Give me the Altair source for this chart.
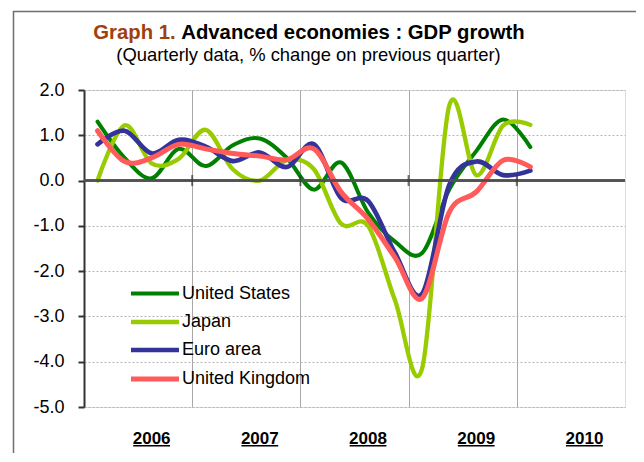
import altair as alt
import pandas as pd

# ---------------- data ----------------
quarters = ["2006Q1", "2006Q2", "2006Q3", "2006Q4",
            "2007Q1", "2007Q2", "2007Q3", "2007Q4",
            "2008Q1", "2008Q2", "2008Q3", "2008Q4",
            "2009Q1", "2009Q2", "2009Q3", "2009Q4",
            "2010Q1"]
us = [1.3, 0.5, 0.05, 0.7, 0.32, 0.78, 0.93, 0.5, -0.2, 0.4, -0.7, -1.35, -1.6, -0.2, 0.65, 1.35, 0.74]
japan = [0.0, 1.22, 0.38, 0.48, 1.12, 0.25, 0.0, 0.45, 0.25, -0.95, -1.0, -2.65, -4.15, 1.65, 0.12, 1.22, 1.23]
euro = [0.8, 1.1, 0.6, 0.9, 0.75, 0.43, 0.62, 0.3, 0.8, -0.38, -0.45, -1.6, -2.5, -0.1, 0.42, 0.12, 0.22]
uk = [1.1, 0.42, 0.5, 0.8, 0.7, 0.6, 0.54, 0.46, 0.7, -0.25, -0.85, -1.7, -2.6, -0.7, -0.25, 0.45, 0.3]

series_names = ["United States", "Japan", "Euro area", "United Kingdom"]
series_colors = ["#008000", "#99CC00", "#333399", "#FF5B5B"]
series_widths = [4, 5, 6, 5]
years = ["2006", "2007", "2008", "2009", "2010"]
y_ticks = [2, 1, 0, -1, -2, -3, -4, -5]

title_lead = "Graph 1."
title_main = "Advanced economies : GDP growth"
subtitle = "(Quarterly data, % change on previous quarter)"

# ---------------- tables ----------------
def qpos(q):
    return (int(q[:4]) - 2006) * 4 + (int(q[-1]) - 1) + 0.5

rows = []
for name, vals in zip(series_names, [us, japan, euro, uk]):
    for q, v in zip(quarters, vals):
        rows.append({"series": name, "quarter": q, "pos": qpos(q), "value": v})
df = pd.DataFrame(rows)

W, H = 541, 317
FONT = "Arial"
TSIZE = 20.3

year_pos = [(int(y) - 2006) * 4 + 2.5 for y in years]
df_years = pd.DataFrame({"year": years, "pos": year_pos,
                         "u0": [p - 0.68 for p in year_pos],
                         "u1": [p + 0.68 for p in year_pos]})
df_bounds = pd.DataFrame({"pos": [(int(y) - 2006) * 4 for y in years[1:]], "value": [0] * 4})

xscale = alt.Scale(domain=[0, 20], nice=False, zero=False)
yscale = alt.Scale(domain=[-5, 2], nice=False, zero=False)

ax_x = alt.Axis(values=[4, 8, 12, 16], grid=True, labels=False, ticks=False,
                domain=False, title=None, gridColor="#A8A8A8", gridWidth=1)
ax_y = alt.Axis(values=y_ticks, title=None, grid=True,
                labelExpr="(datum.value < 0 ? '-' : '') + format(abs(datum.value), '.1f')",
                gridDash=[2, 2], gridColor="#B4B4B4", gridWidth=1,
                domainColor="#333333", domainWidth=2,
                tickColor="#333333", tickWidth=2, tickSize=6,
                labelFontSize=18, labelPadding=14, labelColor="black",
                labelFont=FONT)

X = alt.X("pos:Q", scale=xscale, axis=ax_x)
Y = alt.Y("value:Q", scale=yscale, axis=ax_y)

lines = alt.Chart(df).mark_line(
    interpolate="cardinal", tension=0, strokeCap="round", strokeJoin="round"
).encode(
    x=X, y=Y,
    color=alt.Color("series:N", scale=alt.Scale(domain=series_names, range=series_colors),
                    legend=alt.Legend(title=None, orient="none", direction="vertical",
                                      legendX=61, legendY=194,
                                      symbolType="M-3.2,0H3.2", symbolSize=225,
                                      symbolStrokeWidth=5, labelFontSize=18,
                                      labelFont=FONT, labelColor="black",
                                      labelOffset=17, rowPadding=9, padding=0)),
    strokeWidth=alt.StrokeWidth("series:N",
                                scale=alt.Scale(domain=series_names, range=series_widths),
                                legend=None),
)

zero_rule = alt.Chart(df_bounds).mark_rule(
    color="#505050", strokeWidth=2
).encode(y=Y)

zero_ticks = alt.Chart(df_bounds).mark_tick(
    orient="vertical", size=11, thickness=2, color="#333333"
).encode(x=X, y=Y)

year_text = alt.Chart(df_years).mark_text(
    font=FONT, fontSize=17, fontWeight="bold", color="black",
    align="center", baseline="alphabetic"
).encode(x=X, y=alt.value(H + 37), text="year:N")

# underline drawn as a thin ranged bar spanning each year label
year_underline = alt.Chart(df_years).mark_rect(color="black").encode(
    x=alt.X("u0:Q", scale=xscale, axis=ax_x), x2="u1:Q",
    y=alt.value(H + 38), y2=alt.value(H + 39.6))

title_a = alt.Chart(pd.DataFrame({"t": [title_lead]})).mark_text(
    font=FONT, fontSize=TSIZE, fontWeight="bold", color="#A0410D",
    align="left", baseline="alphabetic"
).encode(x=alt.value(9.3), y=alt.value(-50.7), text="t:N")

title_b = alt.Chart(pd.DataFrame({"t": [title_main]})).mark_text(
    font=FONT, fontSize=TSIZE, fontWeight="bold", color="black",
    align="left", baseline="alphabetic"
).encode(x=alt.value(9.3 + 4.335 * TSIZE), y=alt.value(-50.7), text="t:N")

sub = alt.Chart(pd.DataFrame({"t": [subtitle]})).mark_text(
    font=FONT, fontSize=18.4, color="black", align="center", baseline="alphabetic"
).encode(x=alt.value(224.5), y=alt.value(-29), text="t:N")

# outer frame: a stroked box whose right/bottom edges fall outside the page
frame = alt.Chart(pd.DataFrame({"a": [0]})).mark_rect(
    fillOpacity=0, stroke="#6E6E6E", strokeWidth=1.5
).encode(x=alt.value(-70.5), x2=alt.value(W + 100), y=alt.value(-78.5), y2=alt.value(H + 100))

chart = alt.layer(
    frame, lines, zero_rule, zero_ticks, year_text, year_underline,
    title_a, title_b, sub
).properties(
    width=W, height=H,
    autosize=alt.AutoSizeParams(type="none"),
    padding={"left": 76, "top": 82, "right": 11, "bottom": 46},
).configure_view(
    stroke="#8C8C8C", strokeWidth=2
).configure(background="white")

chart.save("out.html", embed_options={"renderer": "svg", "actions": False})
